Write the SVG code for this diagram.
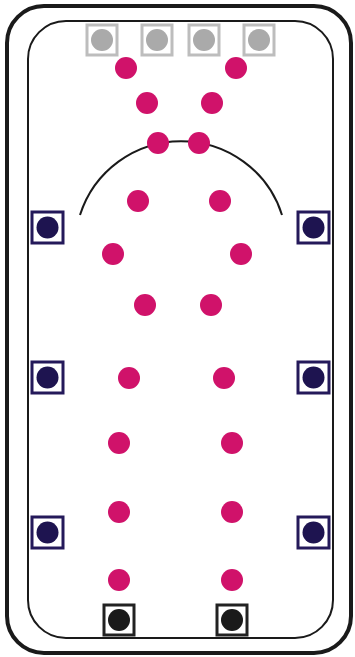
<svg xmlns="http://www.w3.org/2000/svg" width="355" height="657" viewBox="0 0 355 657">
<style>
.frame{fill:none;stroke:#1a1a1a}
.pink{fill:#d0126a}
.gsq{fill:#fff;stroke:#bdbdbd;stroke-width:3}
.gdot{fill:#aaaaaa}
.nsq{fill:#fff;stroke:#24195a;stroke-width:3}
.ndot{fill:#1e1450}
.bsq{fill:#fff;stroke:#222;stroke-width:3}
.bdot{fill:#1a1a1a}
</style>
<rect width="355" height="657" fill="#fff"/>
<g id="court">
<rect class="frame" x="7" y="6" width="344" height="647" rx="37" stroke-width="4"/>
<rect class="frame" x="28" y="21" width="305" height="617" rx="38" stroke-width="2"/>
<path class="frame" d="M80,215 A106,106 0 0 1 282,215" stroke-width="2"/>
</g>
<g id="top-markers">
<g id="g1"><rect class="gsq" x="87" y="25" width="30" height="30"/><circle class="gdot" cx="102" cy="40" r="11"/></g>
<g id="g2"><rect class="gsq" x="142" y="25" width="30" height="30"/><circle class="gdot" cx="157" cy="40" r="11"/></g>
<g id="g3"><rect class="gsq" x="189" y="25" width="30" height="30"/><circle class="gdot" cx="204" cy="40" r="11"/></g>
<g id="g4"><rect class="gsq" x="244" y="25" width="30" height="30"/><circle class="gdot" cx="259" cy="40" r="11"/></g>
</g>
<g id="side-markers">
<g id="n1"><rect class="nsq" x="32" y="212" width="31" height="31"/><circle class="ndot" cx="47.5" cy="227.5" r="11"/></g>
<g id="n2"><rect class="nsq" x="298" y="212" width="31" height="31"/><circle class="ndot" cx="313.5" cy="227.5" r="11"/></g>
<g id="n3"><rect class="nsq" x="32" y="362" width="31" height="31"/><circle class="ndot" cx="47.5" cy="377.5" r="11"/></g>
<g id="n4"><rect class="nsq" x="298" y="362" width="31" height="31"/><circle class="ndot" cx="313.5" cy="377.5" r="11"/></g>
<g id="n5"><rect class="nsq" x="32" y="517" width="31" height="31"/><circle class="ndot" cx="47.5" cy="532.5" r="11"/></g>
<g id="n6"><rect class="nsq" x="298" y="517" width="31" height="31"/><circle class="ndot" cx="313.5" cy="532.5" r="11"/></g>
</g>
<g id="bottom-markers">
<g id="b1"><rect class="bsq" x="104" y="605" width="30" height="30"/><circle class="bdot" cx="119" cy="620" r="11"/></g>
<g id="b2"><rect class="bsq" x="217" y="605" width="30" height="30"/><circle class="bdot" cx="232" cy="620" r="11"/></g>
</g>
<g id="dots">
<circle class="pink" cx="126" cy="68" r="11"/><circle class="pink" cx="236" cy="68" r="11"/>
<circle class="pink" cx="147" cy="103" r="11"/><circle class="pink" cx="212" cy="103" r="11"/>
<circle class="pink" cx="158" cy="143" r="11"/><circle class="pink" cx="199" cy="143" r="11"/>
<circle class="pink" cx="138" cy="201" r="11"/><circle class="pink" cx="220" cy="201" r="11"/>
<circle class="pink" cx="113" cy="254" r="11"/><circle class="pink" cx="241" cy="254" r="11"/>
<circle class="pink" cx="145" cy="305" r="11"/><circle class="pink" cx="211" cy="305" r="11"/>
<circle class="pink" cx="129" cy="378" r="11"/><circle class="pink" cx="224" cy="378" r="11"/>
<circle class="pink" cx="119" cy="443" r="11"/><circle class="pink" cx="232" cy="443" r="11"/>
<circle class="pink" cx="119" cy="512" r="11"/><circle class="pink" cx="232" cy="512" r="11"/>
<circle class="pink" cx="119" cy="580" r="11"/><circle class="pink" cx="232" cy="580" r="11"/>
</g>
</svg>
